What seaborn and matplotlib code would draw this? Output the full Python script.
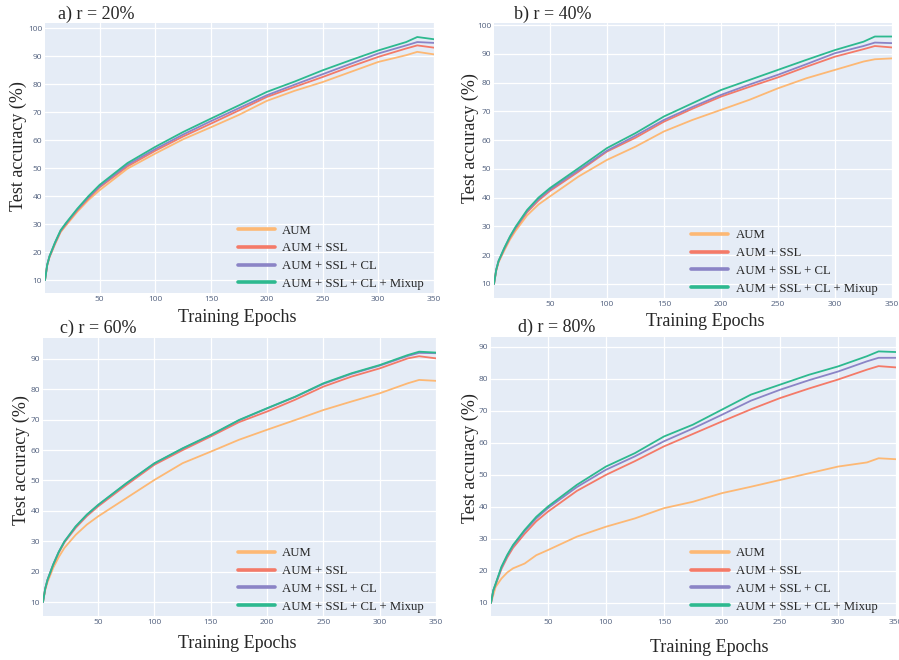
import numpy as np
import pandas as pd
import matplotlib
matplotlib.use('Agg')
import matplotlib.pyplot as plt
import seaborn as sns

epochs = [1, 3, 5, 10, 15, 20, 30, 40, 50, 75, 100, 125, 150, 175, 200, 225, 250, 275, 300, 325, 335, 350]
methods = ['AUM', 'AUM + SSL', 'AUM + SSL + CL', 'AUM + SSL + CL + Mixup']
colors = ['#FDB874', '#F47A68', '#8B84C6', '#2DB98F']

# r = 20%
aum_20 = [10, 15.3, 18.1, 22.8, 27.1, 29.6, 34.4, 38.6, 42.1, 49.8, 55.2, 60.3, 64.6, 69.0, 74.0, 77.6, 80.7, 84.3, 87.9, 90.3, 91.5, 90.6]
ssl_20 = [10, 15.4, 18.3, 23.1, 27.4, 30.0, 34.9, 39.2, 43.1, 50.6, 56.2, 61.3, 65.9, 70.6, 75.4, 79.0, 82.5, 86.2, 89.7, 92.7, 93.8, 93.0]
cl_20 = [10, 15.5, 18.4, 23.3, 27.6, 30.3, 35.2, 39.6, 43.5, 51.2, 56.8, 62.0, 66.8, 71.4, 76.0, 79.8, 83.5, 87.2, 90.9, 93.8, 95.0, 94.7]
mix_20 = [10, 15.5, 18.5, 23.5, 27.8, 30.5, 35.5, 40.0, 44.0, 51.8, 57.6, 62.9, 67.7, 72.4, 77.2, 80.9, 84.9, 88.5, 92.0, 95.0, 96.8, 96.0]

# r = 40%
aum_40 = [10, 14.7, 17.5, 21.6, 25.4, 28.5, 33.8, 37.6, 40.4, 47.3, 53.1, 57.7, 63.0, 67.0, 70.5, 74.0, 78.0, 81.5, 84.4, 87.3, 88.1, 88.4]
ssl_40 = [10, 14.9, 17.8, 22.1, 26.0, 29.3, 34.9, 39.0, 42.3, 49.0, 56.0, 60.8, 66.4, 70.9, 75.1, 78.5, 81.8, 85.5, 89.0, 91.6, 92.7, 92.2]
cl_40 = [10, 15.0, 17.9, 22.3, 26.3, 29.6, 35.3, 39.5, 42.8, 49.5, 56.3, 61.5, 67.0, 71.5, 75.7, 79.3, 82.7, 86.4, 90.2, 92.7, 93.9, 93.7]
mix_40 = [10, 15.0, 18.0, 22.5, 26.5, 29.9, 35.7, 40.0, 43.3, 50.2, 57.2, 62.4, 68.2, 72.8, 77.4, 80.9, 84.4, 87.9, 91.3, 94.2, 96.0, 96.0]

# r = 60%
aum_60 = [10, 14.0, 16.5, 21.2, 24.8, 27.8, 32.1, 35.5, 38.2, 44.2, 50.2, 55.7, 59.5, 63.4, 66.7, 69.9, 73.2, 76.0, 78.7, 82.0, 83.1, 82.8]
ssl_60 = [10, 14.4, 17.2, 22.1, 26.2, 29.6, 34.4, 38.3, 41.5, 48.5, 55.2, 60.0, 64.5, 69.2, 72.7, 76.6, 80.9, 84.2, 86.9, 90.2, 90.9, 90.2]
cl_60 = [10, 14.5, 17.3, 22.3, 26.5, 29.9, 34.8, 38.7, 41.9, 49.0, 55.6, 60.5, 64.9, 69.8, 73.7, 77.5, 81.8, 85.1, 87.8, 91.0, 92.0, 91.9]
mix_60 = [10, 14.5, 17.3, 22.3, 26.5, 29.9, 34.9, 38.8, 42.0, 49.1, 55.7, 60.6, 65.0, 69.9, 73.8, 77.6, 82.0, 85.3, 88.0, 91.3, 92.4, 92.1]

# r = 80%
aum_80 = [10, 12.5, 15.0, 17.6, 19.5, 20.8, 22.3, 24.9, 26.5, 30.7, 33.8, 36.4, 39.6, 41.6, 44.3, 46.3, 48.4, 50.5, 52.6, 53.9, 55.2, 54.9]
ssl_80 = [10, 13.8, 15.7, 20.6, 24.2, 27.2, 31.6, 35.5, 38.5, 45.0, 50.0, 54.3, 58.9, 62.8, 66.7, 70.5, 74.0, 77.0, 79.8, 82.9, 84.0, 83.6]
cl_80 = [10, 13.9, 15.9, 21.0, 24.7, 27.8, 32.4, 36.4, 39.6, 46.2, 51.6, 55.8, 60.5, 64.5, 68.8, 73.2, 76.6, 79.6, 82.3, 85.5, 86.6, 86.6]
mix_80 = [10, 14.0, 16.0, 21.3, 25.0, 28.1, 32.8, 36.9, 40.1, 46.9, 52.6, 56.8, 62.0, 65.7, 70.4, 75.1, 78.2, 81.3, 83.9, 87.1, 88.6, 88.4]

sns.set_theme(style='darkgrid', rc={
    'axes.facecolor': '#E5ECF6',
    'grid.color': 'white',
    'grid.linewidth': 0.9,
    'axes.edgecolor': '#E5ECF6',
})
plt.rcParams['font.family'] = ['Liberation Serif', 'DejaVu Serif']

W, H = 899, 660
fig = plt.figure(figsize=(W / 100, H / 100), dpi=100)

# (title, series, axes box in px [left, top, right, bottom], ylim, yticks, title xy, xlabel xy, ylabel xy)
panels = [
    ('a) r = 20%', [aum_20, ssl_20, cl_20, mix_20], (45, 23, 434, 293), (5.4, 101.8), range(10, 101, 10),
     (58, 14), (237, 318), (18, 146)),
    ('b) r = 40%', [aum_40, ssl_40, cl_40, mix_40], (494, 23, 892, 298), (5.1, 100.7), range(10, 101, 10),
     (514, 14), (705, 321), (470, 138)),
    ('c) r = 60%', [aum_60, ssl_60, cl_60, mix_60], (43, 338, 436, 616), (5.4, 96.9), range(10, 91, 10),
     (60, 328), (237, 643), (21, 460)),
    ('d) r = 80%', [aum_80, ssl_80, cl_80, mix_80], (491, 337, 896, 616), (5.9, 93.1), range(10, 91, 10),
     (518, 327), (709, 648), (470, 458)),
]

for title, series, box, ylim, yticks, txy, xxy, yxy in panels:
    l, t, r, b = box
    ax = fig.add_axes([l / W, 1 - b / H, (r - l) / W, (b - t) / H])
    df = pd.DataFrame({
        'epoch': epochs * len(methods),
        'acc': sum(series, []),
        'method': np.repeat(methods, len(epochs)),
    })
    sns.lineplot(data=df, x='epoch', y='acc', hue='method', hue_order=methods,
                 palette=colors, linewidth=1.3, ax=ax)
    ax.set_xlim(1, 350)
    ax.set_ylim(*ylim)
    ax.set_xticks([50, 100, 150, 200, 250, 300, 350])
    ax.set_yticks(list(yticks))
    ax.set_xlabel('')
    ax.set_ylabel('')
    for lab in ax.get_xticklabels() + ax.get_yticklabels():
        lab.set_family('Open Sans')
        lab.set_fontsize(6)
        lab.set_color('#51607e')
    ax.tick_params(length=0, pad=2)
    for s in ax.spines.values():
        s.set_visible(False)

    handles, labels = ax.get_legend_handles_labels()
    leg = ax.legend(handles, labels, loc='lower left', bbox_to_anchor=(0.495, 0.012),
                    frameon=False, fontsize=9.2, handlelength=2.9, handletextpad=0.6,
                    labelspacing=0.45, borderpad=0, borderaxespad=0)
    for ln in leg.get_lines():
        ln.set_linewidth(2.6)

    fig.text(txy[0] / W, 1 - txy[1] / H, title, fontsize=13, ha='left', va='center')
    fig.text(xxy[0] / W, 1 - xxy[1] / H, 'Training Epochs', fontsize=13, ha='center', va='center')
    fig.text(yxy[0] / W, 1 - yxy[1] / H, 'Test accuracy (%)', fontsize=13, ha='center',
             va='center', rotation=90)

fig.savefig('out.png', dpi=100)
